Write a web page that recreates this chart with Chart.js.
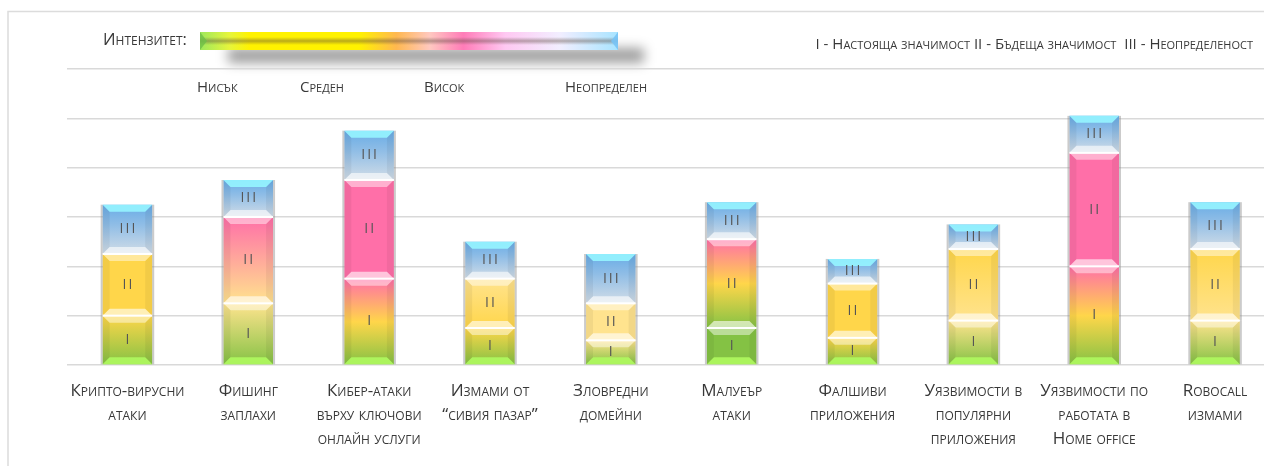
<!DOCTYPE html>
<html lang="bg">
<head>
<meta charset="utf-8">
<title>Интензитет на киберзаплахите</title>
<script src="https://cdn.jsdelivr.net/npm/chart.js@4.4.1/dist/chart.umd.min.js"></script>
<style>
  html, body { margin: 0; padding: 0; background: #fff; overflow: hidden; }
  #wrap { position: absolute; left: 0; top: 0; width: 1290px; height: 466px; }
</style>
</head>
<body>
<div id="wrap"><canvas id="threats"></canvas></div>
<script>
// categories (x axis)
const categories = [
    ['Крипто-вирусни', 'атаки'],
    ['Фишинг', 'заплахи'],
    ['Кибер-атаки', 'върху ключови', 'онлайн услуги'],
    ['Измами от', '“сивия пазар”'],
    ['Зловредни', 'домейни'],
    ['Малуеър', 'атаки'],
    ['Фалшиви', 'приложения'],
    ['Уязвимости в', 'популярни', 'приложения'],
    ['Уязвимости по', 'работата в', 'Home office'],
    ['Robocall', 'измами']
];

// I - present, II - future, III - uncertainty
const presentValues   = [1.0, 1.25, 1.75, 0.75, 0.5, 0.75, 0.55, 0.9, 2.0, 0.9];
const futureValues    = [1.25, 1.75, 2.0, 1.0, 0.75, 1.8, 1.1, 1.45, 2.3, 1.45];
const uncertainValues = [1.0, 0.75, 1.0, 0.75, 1.0, 0.75, 0.5, 0.5, 0.75, 0.95];

// intensity reached at the top of segments I and II
const presentLevel = ['mid', 'pale', 'high', 'mid', 'pale', 'low', 'mid', 'pale', 'high', 'pale'];
const futureLevel  = ['mid', 'high', 'high', 'pale', 'pale', 'high', 'mid', 'mid', 'high', 'mid'];

const segmentNames = ['I', 'II', 'III'];
const yMax = 6;

const intensityTitle = 'Интензитет:';
const intensityNames = ['Нисък', 'Среден', 'Висок', 'Неопределен'];
const segmentLegend = 'I - Настояща значимост II - Бъдеща значимост  III - Неопределеност';

const FONT = "'Open Sans', sans-serif";
const TEXT = '#383838';

const levelColors = { low: '#84c244', mid: '#ffd64a', pale: '#ffe38e', high: '#ff6fa8' };
const levelOrder = { low: 0, mid: 1, pale: 1, high: 2 };

function segmentStops(from, to) {
    if (from === to) return [levelColors[from], levelColors[to]];
    const list = [levelColors[from]];
    if (levelOrder[to] - levelOrder[from] === 2) list.push(levelColors.mid);
    list.push(levelColors[to]);
    return list;
}

function fillFor(datasetIndex) {
    return function (ctx) {
        if (ctx.type !== 'data') return '#cccccc';
        const chart = ctx.chart;
        const y = chart.scales.y;
        const i = ctx.dataIndex;
        let start = 0;
        for (let d = 0; d < datasetIndex; d++) start += chart.data.datasets[d].data[i];
        const end = start + chart.data.datasets[datasetIndex].data[i];
        const yb = y ? y.getPixelForValue(start) : NaN;
        const yt = y ? y.getPixelForValue(end) : NaN;
        if (!isFinite(yb) || !isFinite(yt) || yb === yt) return '#cccccc';
        const g = chart.ctx.createLinearGradient(0, yb, 0, yt);
        if (datasetIndex === 2) {
            g.addColorStop(0, '#d2dde7');
            g.addColorStop(0.6, '#8fbde6');
            g.addColorStop(1, '#68ace6');
            return g;
        }
        const from = datasetIndex === 0 ? 'low' : presentLevel[i];
        const to = datasetIndex === 0 ? presentLevel[i] : futureLevel[i];
        const stops = segmentStops(from, to);
        stops.forEach((c, k) => g.addColorStop(k / (stops.length - 1), c));
        return g;
    };
}

// bevel look of the segments + I/II/III labels
const bevelPlugin = {
    id: 'bevel',
    afterDatasetsDraw(chart) {
        const c = chart.ctx;
        const b = 7;
        chart.data.datasets.forEach((ds, di) => {
            chart.getDatasetMeta(di).data.forEach((el) => {
                const p = el.getProps(['x', 'y', 'base', 'width'], true);
                const l = p.x - p.width / 2, r = p.x + p.width / 2;
                const t = Math.min(p.y, p.base), bt = Math.max(p.y, p.base);
                c.save();
                // side shadows
                c.fillStyle = 'rgba(140,140,140,0.45)';
                c.fillRect(l - 2, t, 2, bt - t);
                c.fillRect(r, t, 2, bt - t);
                // side bevels
                c.fillStyle = 'rgba(0,0,0,0.05)';
                c.beginPath();
                c.moveTo(l, t); c.lineTo(l + b, t + b); c.lineTo(l + b, bt - b); c.lineTo(l, bt);
                c.closePath(); c.fill();
                c.beginPath();
                c.moveTo(r, t); c.lineTo(r - b, t + b); c.lineTo(r - b, bt - b); c.lineTo(r, bt);
                c.closePath(); c.fill();
                // top bevel
                c.fillStyle = di === 2 ? 'rgba(150,245,255,0.9)' : 'rgba(255,255,255,0.45)';
                c.beginPath();
                c.moveTo(l, t); c.lineTo(r, t); c.lineTo(r - b, t + b); c.lineTo(l + b, t + b);
                c.closePath(); c.fill();
                // bottom bevel
                c.fillStyle = di === 0 ? 'rgba(175,250,95,0.9)' : 'rgba(255,255,255,0.6)';
                c.beginPath();
                c.moveTo(l, bt); c.lineTo(r, bt); c.lineTo(r - b, bt - b); c.lineTo(l + b, bt - b);
                c.closePath(); c.fill();
                // separator
                if (di > 0) {
                    c.fillStyle = '#ffffff';
                    c.fillRect(l, bt - 1, r - l, 2);
                }
                // label
                c.fillStyle = '#555555';
                c.font = '14px ' + FONT;
                c.letterSpacing = '2px';
                c.textAlign = 'center';
                c.textBaseline = 'middle';
                c.fillText(segmentNames[di], p.x + 1, (t + bt) / 2);
                c.restore();
            });
        });
    }
};

// frame, intensity bar and legend texts
const headerPlugin = {
    id: 'header',
    beforeDraw(chart) {
        const c = chart.ctx;
        c.save();
        c.strokeStyle = '#dcdcdc';
        c.lineWidth = 1.5;
        c.beginPath();
        c.moveTo(8, 466); c.lineTo(8, 11.5); c.lineTo(chart.width, 11.5);
        c.stroke();

        // intensity bar shadow
        const x0 = 200, x1 = 618, y0 = 32, y1 = 50, ym = (y0 + y1) / 2;
        c.filter = 'blur(6px)';
        c.fillStyle = 'rgba(0,0,0,0.38)';
        c.fillRect(x0 + 28, y0 + 16, x1 - x0 - 2, 15);
        c.filter = 'none';

        const g = c.createLinearGradient(x0, 0, x1, 0);
        g.addColorStop(0, '#9ee85c');
        g.addColorStop(0.07, '#e6f53c');
        g.addColorStop(0.12, '#fff200');
        g.addColorStop(0.38, '#fff200');
        g.addColorStop(0.47, '#ffb850');
        g.addColorStop(0.55, '#ffc8c0');
        g.addColorStop(0.63, '#ff7cb8');
        g.addColorStop(0.73, '#ffc8f2');
        g.addColorStop(0.86, '#f2eeff');
        g.addColorStop(1, '#a8e4ff');
        c.fillStyle = g;
        c.fillRect(x0, y0, x1 - x0, y1 - y0);
        const v = c.createLinearGradient(0, y0, 0, y1);
        v.addColorStop(0, 'rgba(90,70,60,0)');
        v.addColorStop(0.28, 'rgba(90,70,60,0)');
        v.addColorStop(0.5, 'rgba(90,70,60,0.42)');
        v.addColorStop(0.72, 'rgba(90,70,60,0)');
        v.addColorStop(1, 'rgba(90,70,60,0)');
        c.fillStyle = v;
        c.fillRect(x0, y0, x1 - x0, y1 - y0);
        c.fillStyle = 'rgba(110,190,70,0.8)';
        c.beginPath(); c.moveTo(x0, y0); c.lineTo(x0 + 7, ym); c.lineTo(x0, y1); c.closePath(); c.fill();
        c.fillStyle = 'rgba(120,195,245,0.9)';
        c.beginPath(); c.moveTo(x1, y0); c.lineTo(x1 - 7, ym); c.lineTo(x1, y1); c.closePath(); c.fill();

        c.fillStyle = TEXT;
        c.textBaseline = 'middle';
        c.textAlign = 'left';
        c.font = 'small-caps 16.5px ' + FONT;
        c.fillText(intensityTitle, 103, 40);
        c.font = 'small-caps 15px ' + FONT;
        const nameX = [197, 300, 424, 565];
        intensityNames.forEach((n, k) => c.fillText(n, nameX[k], 88));
        c.textAlign = 'right';
        c.fillText(segmentLegend, 1253, 45);
        c.restore();
    }
};

const datasets = [presentValues, futureValues, uncertainValues].map((vals, di) => ({
    label: segmentNames[di],
    data: vals,
    backgroundColor: fillFor(di),
    borderWidth: 0,
    barPercentage: 0.41,
    categoryPercentage: 1.0
}));

new Chart(document.getElementById('threats'), {
    type: 'bar',
    data: { labels: categories, datasets: datasets },
    plugins: [headerPlugin, bevelPlugin],
    options: {
        responsive: true,
        maintainAspectRatio: false,
        animation: false,
        layout: { padding: { left: 67, right: 14.5, top: 69, bottom: 0 } },
        plugins: { legend: { display: false }, tooltip: { enabled: false } },
        scales: {
            x: {
                stacked: true,
                grid: { display: false },
                border: { display: false },
                ticks: {
                    color: TEXT,
                    padding: 6,
                    maxRotation: 0,
                    autoSkip: false,
                    font: { family: FONT, size: 17, weight: 'small-caps', lineHeight: 24 / 17 }
                },
                afterFit(s) { s.height = 101; }
            },
            y: {
                stacked: true,
                min: 0,
                max: yMax,
                ticks: { display: false, stepSize: 1 },
                grid: { color: '#d9d9d9', lineWidth: 1.5, drawTicks: false },
                border: { display: false },
                afterFit(s) { s.width = 0; }
            }
        }
    }
});
</script>
</body>
</html>
